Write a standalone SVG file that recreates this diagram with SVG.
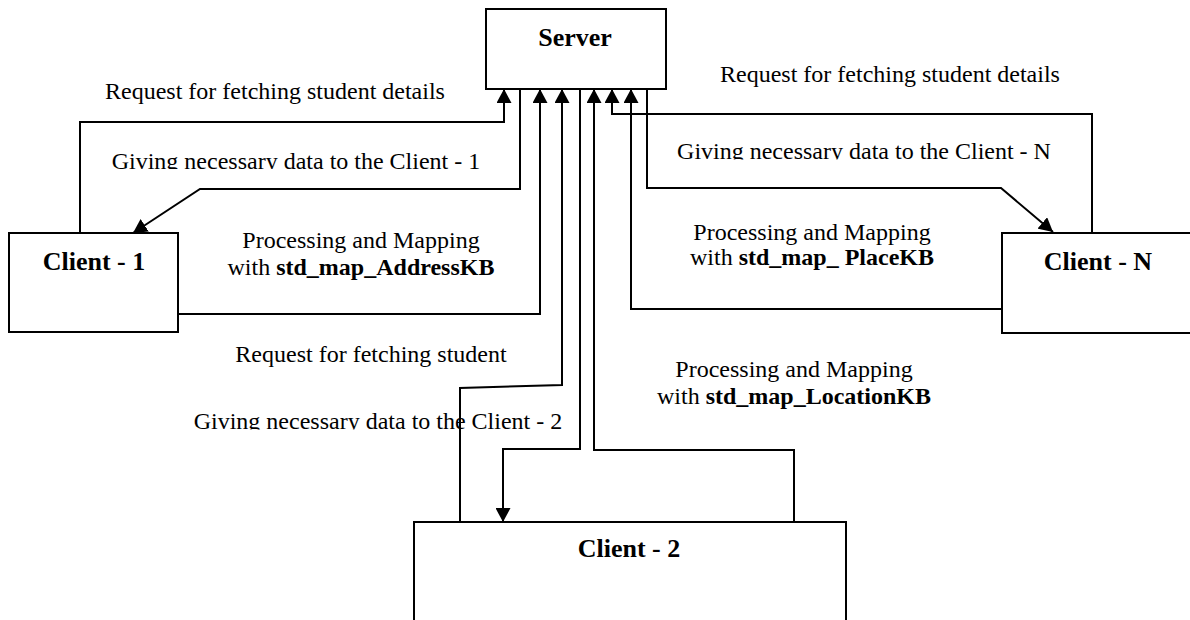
<svg xmlns="http://www.w3.org/2000/svg" width="1190" height="620" viewBox="0 0 1190 620">
<style>
.box{fill:#fff;stroke:#000;stroke-width:2}
.title{font-family:"Liberation Serif","Times New Roman",serif;font-weight:bold;font-size:26px;fill:#000;text-anchor:middle}
.lbl{font-family:"Liberation Serif","Times New Roman",serif;font-size:24px;fill:#000;text-anchor:middle}
.b{font-weight:bold}
.conn{fill:none;stroke:#000;stroke-width:2}
.arr{marker-end:url(#ah)}
</style>
<defs>
<marker id="ah" markerUnits="userSpaceOnUse" markerWidth="14" markerHeight="15" refX="14" refY="7.5" orient="auto">
<path d="M0,0 L14,7.5 L0,15 z" fill="#000"/>
</marker>
<clipPath id="clip1"><rect x="0" y="0" width="1190" height="169"/></clipPath>
<clipPath id="clipN"><rect x="0" y="0" width="1190" height="159.5"/></clipPath>
<clipPath id="clip2"><rect x="0" y="0" width="1190" height="429.5"/></clipPath>
</defs>
<rect width="1190" height="620" fill="#fff"/>

<g id="connectors">
<path class="conn arr" d="M80,233 V122 H504 V89"/>
<path class="conn arr" d="M520,89 V189 H200 L133,233"/>
<path class="conn arr" d="M178,314 H540 V89"/>
<path class="conn arr" d="M460,522 V388 L562,385 V89"/>
<path class="conn arr" d="M580,89 V449 H503 V522"/>
<path class="conn arr" d="M794,522 V450 H594 V89"/>
<path class="conn arr" d="M1092,233 V114 H612 V89"/>
<path class="conn arr" d="M1002,309 H631 V89"/>
<path class="conn arr" d="M647,89 V188 H1001 L1053,232"/>
</g>

<g id="labels">
<text class="lbl" x="275" y="99">Request for fetching student details</text>
<text class="lbl" x="890" y="82">Request for fetching student details</text>
<text class="lbl" x="296" y="168.5" clip-path="url(#clip1)">Giving necessary data to the Client - 1</text>
<text class="lbl" x="864" y="159" clip-path="url(#clipN)">Giving necessary data to the Client - N</text>
<text class="lbl" x="361" y="248">Processing and Mapping</text>
<text class="lbl" x="361" y="275">with <tspan class="b">std_map_AddressKB</tspan></text>
<text class="lbl" x="812" y="240">Processing and Mapping</text>
<text class="lbl" x="812" y="265">with <tspan class="b">std_map_ PlaceKB</tspan></text>
<text class="lbl" x="371" y="362">Request for fetching student</text>
<text class="lbl" x="378" y="429" clip-path="url(#clip2)">Giving necessary data to the Client - 2</text>
<text class="lbl" x="794" y="377">Processing and Mapping</text>
<text class="lbl" x="794" y="404">with <tspan class="b">std_map_LocationKB</tspan></text>
</g>

<g id="server">
<rect class="box" x="486" y="9" width="180" height="80"/>
<text class="title" x="575" y="46">Server</text>
</g>
<g id="client1">
<rect class="box" x="9" y="233" width="169" height="99"/>
<text class="title" x="94" y="270">Client - 1</text>
</g>
<g id="clientN">
<rect class="box" x="1002" y="233" width="200" height="100"/>
<text class="title" x="1098" y="270">Client - N</text>
</g>
<g id="client2">
<rect class="box" x="414" y="522" width="432" height="110"/>
<text class="title" x="629" y="557">Client - 2</text>
</g>
</svg>
